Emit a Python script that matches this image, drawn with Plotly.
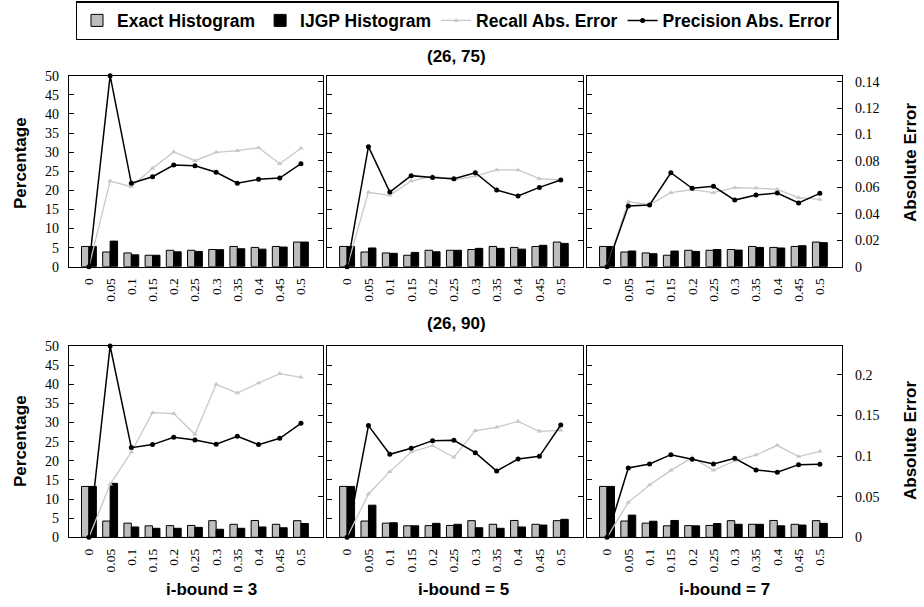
import plotly.graph_objects as go

cats = ["0", "0.05", "0.1", "0.15", "0.2", "0.25", "0.3", "0.35", "0.4", "0.45", "0.5"]

# (26, 75) problem
exact_75 = [5.3, 3.85, 3.6, 3.0, 4.3, 4.3, 4.5, 5.3, 5.05, 5.3, 6.45]
ijgp_75_i3 = [5.3, 6.7, 3.1, 3.0, 3.9, 4.0, 4.45, 4.7, 4.6, 5.15, 6.45]
ijgp_75_i5 = [5.3, 4.9, 3.5, 3.75, 3.9, 4.3, 4.8, 4.8, 4.6, 5.6, 6.1]
ijgp_75_i7 = [5.3, 4.1, 3.4, 4.1, 4.0, 4.5, 4.35, 5.05, 4.9, 5.5, 6.3]
recall_75_i3 = [0, 0.0648, 0.0605, 0.0744, 0.0868, 0.0802, 0.0865, 0.0878, 0.0900, 0.0779, 0.0896]
prec_75_i3 = [0, 0.1445, 0.0631, 0.0681, 0.0769, 0.0764, 0.0714, 0.0631, 0.0661, 0.0671, 0.0779]
recall_75_i5 = [0, 0.0563, 0.0540, 0.0648, 0.0686, 0.0656, 0.0686, 0.0732, 0.0732, 0.0666, 0.0656]
prec_75_i5 = [0, 0.0908, 0.0565, 0.0689, 0.0674, 0.0666, 0.0711, 0.0580, 0.0535, 0.0600, 0.0656]
recall_75_i7 = [0, 0.0492, 0.0469, 0.0560, 0.0583, 0.0560, 0.0598, 0.0595, 0.0585, 0.0522, 0.0509]
prec_75_i7 = [0, 0.0459, 0.0467, 0.0711, 0.0593, 0.0608, 0.0504, 0.0542, 0.0557, 0.0482, 0.0555]

# (26, 90) problem
exact_90 = [13.3, 4.25, 3.7, 3.0, 3.05, 3.1, 4.35, 3.4, 4.4, 3.4, 4.35]
ijgp_90_i3 = [13.3, 14.1, 2.7, 2.35, 2.35, 2.6, 2.1, 2.35, 2.7, 2.5, 3.6]
ijgp_90_i5 = [13.3, 8.4, 3.8, 3.0, 3.65, 3.4, 2.5, 2.35, 2.7, 3.2, 4.7]
ijgp_90_i7 = [13.3, 5.8, 4.2, 4.4, 3.0, 3.6, 3.4, 3.4, 3.0, 3.2, 3.65]
recall_90_i3 = [0, 0.0653, 0.1051, 0.1536, 0.1524, 0.1269, 0.1885, 0.1778, 0.1901, 0.2016, 0.1971]
prec_90_i3 = [0, 0.2357, 0.1105, 0.1142, 0.1232, 0.1199, 0.1146, 0.1244, 0.1142, 0.1220, 0.1405]
recall_90_i5 = [0, 0.0534, 0.0809, 0.1051, 0.1129, 0.0986, 0.1314, 0.1355, 0.1429, 0.1306, 0.1318]
prec_90_i5 = [0, 0.1376, 0.1023, 0.1097, 0.1191, 0.1195, 0.1043, 0.0817, 0.0965, 0.0998, 0.1384]
recall_90_i7 = [0, 0.0431, 0.0645, 0.0825, 0.0982, 0.0825, 0.0940, 0.1014, 0.1133, 0.0994, 0.1060]
prec_90_i7 = [0, 0.0854, 0.0903, 0.1018, 0.0961, 0.0903, 0.0973, 0.0830, 0.0801, 0.0895, 0.0899]

pct_ticks = [0, 5, 10, 15, 20, 25, 30, 35, 40, 45, 50]
err_ticks_75 = [0, 0.02, 0.04, 0.06, 0.08, 0.1, 0.12, 0.14]
err_ticks_90 = [0, 0.05, 0.1, 0.15, 0.2]
err_max_75 = 0.1445
err_max_90 = 0.2357

row_titles = ["(26, 75)", "(26, 90)"]
col_titles = ["i-bound = 3", "i-bound = 5", "i-bound = 7"]

W, H = 924, 607
panels_x = [(69, 323), (327, 583), (587, 842)]
panels_y = [(75.7, 266.7), (346, 537.3)]

panels = [
    (0, 0, exact_75, ijgp_75_i3, recall_75_i3, prec_75_i3),
    (0, 1, exact_75, ijgp_75_i5, recall_75_i5, prec_75_i5),
    (0, 2, exact_75, ijgp_75_i7, recall_75_i7, prec_75_i7),
    (1, 0, exact_90, ijgp_90_i3, recall_90_i3, prec_90_i3),
    (1, 1, exact_90, ijgp_90_i5, recall_90_i5, prec_90_i5),
    (1, 2, exact_90, ijgp_90_i7, recall_90_i7, prec_90_i7),
]

GRAY = "#bdbdbd"
LGRAY = "#c8c8c8"
serif = "Times New Roman, Liberation Serif, DejaVu Serif, serif"
ytickfont = dict(family=serif, size=14, color="black")
xtickfont = dict(family=serif, size=13.5, color="black")
boldfont = dict(family="Liberation Sans", size=17, color="black", weight="bold")

fig = go.Figure()
layout = {}
for k, (r, c, ex, ij, rec, pr) in enumerate(panels):
    i = k + 1
    xa = "x" if i == 1 else f"x{i}"
    ya = "y" if i == 1 else f"y{i}"
    ya2 = f"y{i + 6}"
    first = (k == 0)
    fig.add_trace(go.Bar(x=cats, y=ex, name="Exact Histogram", xaxis=xa, yaxis=ya,
                         marker=dict(color=GRAY, line=dict(color="black", width=1)),
                         showlegend=first, legendgroup="ex"))
    fig.add_trace(go.Bar(x=cats, y=ij, name="IJGP Histogram", xaxis=xa, yaxis=ya,
                         marker=dict(color="black", line=dict(color="black", width=1)),
                         showlegend=first, legendgroup="ij"))
    fig.add_trace(go.Scatter(x=cats, y=rec, name="Recall Abs. Error", xaxis=xa, yaxis=ya2,
                             mode="lines+markers", line=dict(color=LGRAY, width=1.3),
                             marker=dict(symbol="triangle-up", size=5, color=LGRAY),
                             cliponaxis=False, showlegend=first, legendgroup="rec"))
    fig.add_trace(go.Scatter(x=cats, y=pr, name="Precision Abs. Error", xaxis=xa, yaxis=ya2,
                             mode="lines+markers", line=dict(color="black", width=1.5),
                             marker=dict(symbol="circle", size=5, color="black"),
                             cliponaxis=False, showlegend=first, legendgroup="pr"))

    x0, x1 = panels_x[c]
    y0, y1 = panels_y[r]
    xdom = [x0 / W, x1 / W]
    ydom = [1 - y1 / H, 1 - y0 / H]
    xkey = "xaxis" if i == 1 else f"xaxis{i}"
    ykey = "yaxis" if i == 1 else f"yaxis{i}"
    y2key = f"yaxis{i + 6}"
    layout[xkey] = dict(domain=xdom, anchor=ya, type="category", range=[-0.94, 11.04],
                        showline=True, mirror=True, linecolor="black", linewidth=1.3,
                        ticks="", tickangle=-90, tickfont=xtickfont, showgrid=False,
                        automargin=False, ticklabelstandoff=5)
    layout[ykey] = dict(domain=ydom, anchor=xa, range=[0, 50], tickvals=pct_ticks,
                        ticks="inside", ticklen=5, tickcolor="black",
                        showticklabels=(c == 0), tickfont=ytickfont,
                        showline=True, linecolor="black", linewidth=1.3,
                        showgrid=False, zeroline=False, automargin=False,
                        ticklabelstandoff=6)
    emax = err_max_75 if r == 0 else err_max_90
    eticks = err_ticks_75 if r == 0 else err_ticks_90
    layout[y2key] = dict(overlaying=ya, anchor=xa, side="right", range=[0, emax],
                         tickvals=eticks, ticktext=[f"{v:g}" for v in eticks],
                         ticks="inside", ticklen=5, tickcolor="black",
                         showticklabels=(c == 2), tickfont=ytickfont,
                         showline=True, linecolor="black", linewidth=1.3,
                         showgrid=False, zeroline=False, automargin=False,
                         ticklabelstandoff=9)

annotations = []
for r, t in enumerate(row_titles):
    yc = [57, 323][r]
    annotations.append(dict(text=t, x=456 / W, y=1 - yc / H, xref="paper", yref="paper",
                            showarrow=False, font=boldfont, xanchor="center", yanchor="middle"))
for c, t in enumerate(col_titles):
    xc = [211, 463, 724][c]
    annotations.append(dict(text=t, x=xc / W, y=1 - 589 / H, xref="paper", yref="paper",
                            showarrow=False, font=boldfont, xanchor="center", yanchor="middle"))
for yc in [163, 441]:
    annotations.append(dict(text="Percentage", x=20 / W, y=1 - yc / H, xref="paper", yref="paper",
                            showarrow=False, font=boldfont, textangle=-90,
                            xanchor="center", yanchor="middle"))
    annotations.append(dict(text="Absolute Error", x=910 / W, y=1 - yc / H, xref="paper", yref="paper",
                            showarrow=False, font=boldfont, textangle=-90,
                            xanchor="center", yanchor="middle"))

fig.update_layout(
    width=W, height=H,
    margin=dict(l=0, r=0, t=0, b=0),
    paper_bgcolor="white", plot_bgcolor="white",
    barmode="group", bargap=0.3, bargroupgap=0.0,
    showlegend=True,
    legend=dict(orientation="h", x=457 / W, y=1 - 1 / H, xanchor="center", yanchor="top",
                bordercolor="black", borderwidth=1.5, bgcolor="white",
                font=dict(family="Liberation Sans", size=17.5, color="black",
                          weight="bold"),
                traceorder="normal", itemwidth=30, tracegroupgap=0),
    annotations=annotations,
    **layout,
)

fig.write_html("out.html", config={"displayModeBar": False},
               post_script="document.body.style.margin='0px';")
